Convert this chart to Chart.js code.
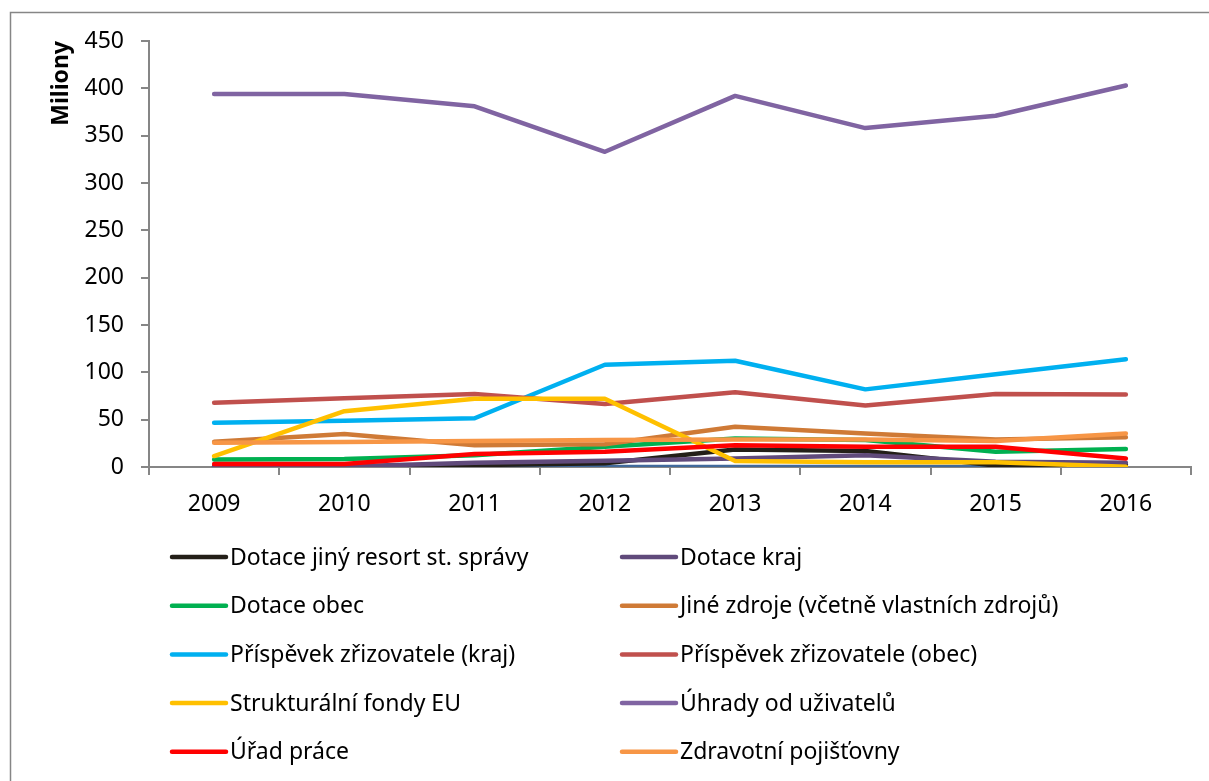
<!DOCTYPE html>
<html>
<head>
<meta charset="utf-8">
<script src="https://cdn.jsdelivr.net/npm/chart.js@4/dist/chart.umd.min.js"></script>
<style>
  html, body { margin: 0; padding: 0; background: #fff; }
  #wrap { width: 1209px; height: 781px; position: relative; }
</style>
</head>
<body>
<div id="wrap"><canvas id="chartFunding"></canvas></div>
<script>
const years = ['2009', '2010', '2011', '2012', '2013', '2014', '2015', '2016'];
const yTicks = [0, 50, 100, 150, 200, 250, 300, 350, 400, 450];

const nezarazeno = [0, 0, 0, 0, 0, 0, 0, 0];
const dotaceJinyResort = [0.5, 0.5, 2, 4, 18.5, 17, 1.5, 2.5];
const dotaceKraj = [0.5, 0.5, 4.5, 6.5, 9, 12.5, 5.5, 4.5];
const dotaceObec = [8, 8.5, 12.5, 21.5, 30, 28.5, 16, 19];
const jineZdroje = [26.8, 34.8, 23, 24, 42.6, 35.5, 29, 31.3];
const prispevekKraj = [46.8, 48.9, 51.5, 108, 112.3, 82, 98, 113.8];
const prispevekObec = [68, 72.5, 77, 66.5, 79, 65, 77, 76.5];
const strukturalniFondy = [11.6, 59, 72, 72, 6.3, 5, 5, 0.3];
const uhradyUzivatelu = [394, 394, 381, 333, 392, 358, 371, 403];
const uradPrace = [3.2, 3.2, 13.7, 16, 23, 21.5, 21.5, 9];
const zdravotniPojistovny = [25.7, 26.5, 27.5, 28.5, 29, 29, 27.5, 35.5];

const seriesList = [
  { label: '', data: nezarazeno, color: '#41699B', legend: false },
  { label: 'Dotace jiný resort st. správy', data: dotaceJinyResort, color: '#231F18' },
  { label: 'Dotace kraj', data: dotaceKraj, color: '#604A7B' },
  { label: 'Dotace obec', data: dotaceObec, color: '#00B050' },
  { label: 'Jiné zdroje (včetně vlastních zdrojů)', data: jineZdroje, color: '#CF7A36' },
  { label: 'Příspěvek zřizovatele (kraj)', data: prispevekKraj, color: '#00B0F0' },
  { label: 'Příspěvek zřizovatele (obec)', data: prispevekObec, color: '#C0504D' },
  { label: 'Strukturální fondy EU', data: strukturalniFondy, color: '#FFC000' },
  { label: 'Úhrady od uživatelů', data: uhradyUzivatelu, color: '#8064A2' },
  { label: 'Úřad práce', data: uradPrace, color: '#FF0000' },
  { label: 'Zdravotní pojišťovny', data: zdravotniPojistovny, color: '#F79646' }
];

const fontFamily = '"Noto Sans", "Open Sans", sans-serif';
const axisGray = '#868686';

// outer frame + two column legend like the original sheet
const sheetPlugin = {
  id: 'sheetPlugin',
  beforeDraw(chart) {
    const ctx = chart.ctx;
    ctx.save();
    ctx.fillStyle = '#fff';
    ctx.fillRect(0, 0, chart.width, chart.height);
    ctx.strokeStyle = axisGray;
    ctx.lineWidth = 1.5;
    ctx.strokeRect(10.5, 12.5, 1300, 900);
    ctx.restore();
  },
  afterDraw(chart) {
    const ctx = chart.ctx;
    const items = chart.data.datasets.filter(ds => ds.showInLegend);
    ctx.save();
    ctx.font = '23px ' + fontFamily;
    ctx.textBaseline = 'middle';
    ctx.textAlign = 'left';
    ctx.lineCap = 'round';
    items.forEach((ds, i) => {
      const col = i % 2;
      const row = Math.floor(i / 2);
      const x = col === 0 ? 172 : 622;
      const y = 557 + row * 48.7;
      ctx.strokeStyle = ds.borderColor;
      ctx.lineWidth = 4.5;
      ctx.beginPath();
      ctx.moveTo(x, y);
      ctx.lineTo(x + 54, y);
      ctx.stroke();
      ctx.fillStyle = '#000';
      ctx.fillText(ds.label, x + 58, y + 1);
    });
    ctx.restore();
  }
};

new Chart(document.getElementById('chartFunding'), {
  type: 'line',
  data: {
    labels: years,
    datasets: seriesList.map((s, i) => ({
      label: s.label,
      data: s.data,
      borderColor: s.color,
      backgroundColor: s.color,
      borderWidth: 4.5,
      borderCapStyle: 'round',
      borderJoinStyle: 'round',
      pointRadius: 0,
      tension: 0,
      fill: false,
      order: -i,
      showInLegend: s.legend !== false
    }))
  },
  options: {
    responsive: true,
    maintainAspectRatio: false,
    animation: false,
    layout: { padding: { left: 0, right: 18, top: 41, bottom: 254 } },
    plugins: {
      legend: { display: false },
      tooltip: { enabled: false }
    },
    scales: {
      x: {
        offset: true,
        grid: {
          offset: true,
          drawOnChartArea: false,
          drawTicks: true,
          tickLength: 8,
          color: axisGray,
          lineWidth: 2
        },
        border: { color: axisGray, width: 2 },
        ticks: {
          color: '#000',
          padding: 16,
          maxRotation: 0,
          font: { family: fontFamily, size: 23 }
        },
        afterFit(scale) { scale.height = 60; }
      },
      y: {
        min: 0,
        max: 450,
        afterBuildTicks(scale) { scale.ticks = yTicks.map(v => ({ value: v })); },
        grid: {
          drawOnChartArea: false,
          drawTicks: true,
          tickLength: 8,
          color: axisGray,
          lineWidth: 2
        },
        border: { color: axisGray, width: 2 },
        ticks: {
          color: '#000',
          padding: 17,
          font: { family: fontFamily, size: 23 }
        },
        title: {
          display: true,
          text: 'Miliony',
          align: 'end',
          color: '#000',
          padding: { top: 48, bottom: 0 },
          font: { family: fontFamily, size: 23, weight: 'bold' }
        },
        afterFit(scale) { scale.width = 149; }
      }
    }
  },
  plugins: [sheetPlugin]
});
</script>
</body>
</html>
